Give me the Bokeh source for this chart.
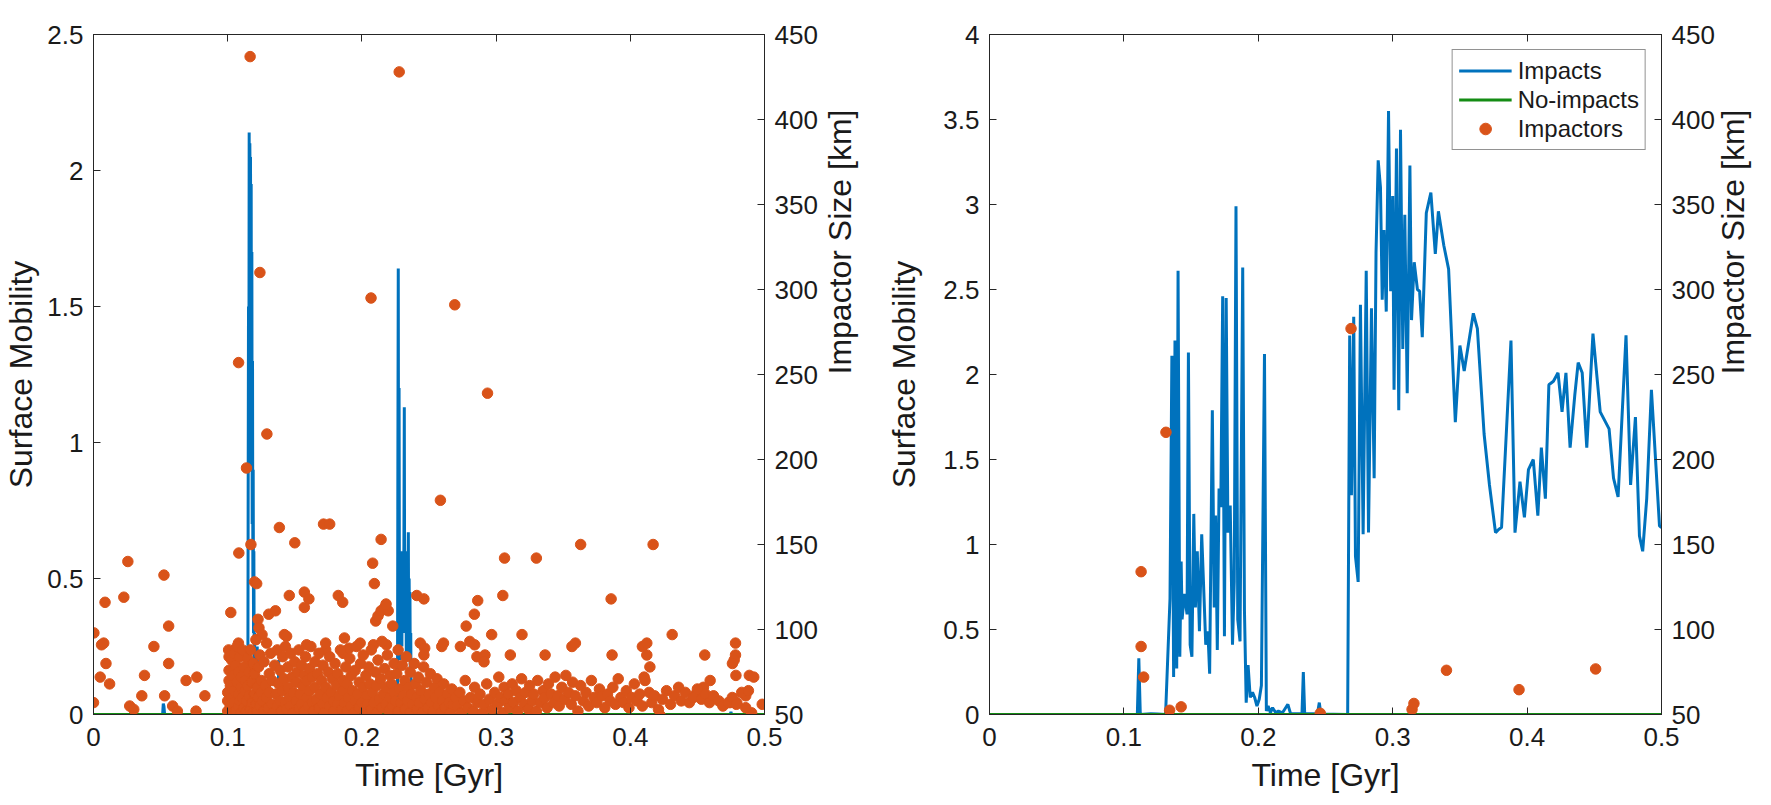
import math
from bokeh.plotting import figure
from bokeh.models import Range1d, LinearAxis, FixedTicker, Label, Legend, LegendItem
from bokeh.layouts import row
from bokeh.embed import file_html
from bokeh.resources import INLINE

# ---------------- data ----------------
x_ticks = [0, 0.1, 0.2, 0.3, 0.4, 0.5]
x_tick_labels = ["0", "0.1", "0.2", "0.3", "0.4", "0.5"]
y3_ticks = [0, 0.5, 1, 1.5, 2, 2.5]
y3_tick_labels = ["0", "0.5", "1", "1.5", "2", "2.5"]
y2_ticks = [0, 0.5, 1, 1.5, 2, 2.5, 3, 3.5, 4]
y2_tick_labels = ["0", "0.5", "1", "1.5", "2", "2.5", "3", "3.5", "4"]
size_ticks = [50, 100, 150, 200, 250, 300, 350, 400, 450]
size_tick_labels = ["50", "100", "150", "200", "250", "300", "350", "400", "450"]

no_impacts_t = [0.0, 0.5]
no_impacts_m = [0.0, 0.0]

# 3-D surface mobility (impacts)
mob3_t = [0.0, 0.0515, 0.052, 0.0525, 0.053, 0.1150,
          0.11525, 0.1155, 0.11575, 0.1160, 0.11625, 0.1165, 0.11675, 0.1170, 0.11725,
          0.1175, 0.11775, 0.1180, 0.11825, 0.1185, 0.11875, 0.1190, 0.11925, 0.1195,
          0.11975, 0.1200, 0.1203, 0.1206, 0.1215, 0.122, 0.1225, 0.1305, 0.131,
          0.1315, 0.1375, 0.138, 0.1385,
          0.2265, 0.2268, 0.2271, 0.2274, 0.2277, 0.2280, 0.2283, 0.2286, 0.2289, 0.2292,
          0.2295, 0.2298, 0.2301, 0.2304, 0.2307, 0.2310, 0.2313, 0.2316, 0.2319, 0.2322,
          0.2325, 0.2328, 0.2331, 0.2334, 0.2337, 0.2340, 0.2343, 0.2346, 0.2349, 0.2352,
          0.2355, 0.2358, 0.2361, 0.2364, 0.2367, 0.2370,
          0.4745, 0.475, 0.4755, 0.5]
mob3_m = [0.0, 0.0, 0.04, 0.03, 0.0, 0.0,
          0.8, 1.5, 0.9, 2.14, 1.5, 2.1, 1.9, 2.05, 1.2, 1.95, 0.9, 1.7, 0.7, 1.3, 0.5,
          0.9, 0.3, 0.6, 0.2, 0.3, 0.1, 0.25, 0.05, 0.25, 0.0, 0.0, 0.12,
          0.0, 0.0, 0.2, 0.0,
          0.0, 0.9, 1.64, 0.4, 1.2, 0.3, 0.58, 0.2, 0.59, 0.35, 0.6, 0.25, 0.57, 0.3, 0.55,
          0.4, 0.62, 1.13, 0.3, 0.6, 0.35, 0.58, 0.2, 0.55, 0.3, 0.6, 0.45, 0.67, 0.2, 0.5,
          0.3, 0.45, 0.15, 0.3, 0.05, 0.0,
          0.0, 0.01, 0.0, 0.0]

# 3-D impactors (time [Gyr], size [km])
imp3_early = [(0.0003, 98), (0.0, 57), (0.006, 91), (0.0076, 92), (0.0086, 116), (0.0093, 80),
              (0.005, 72), (0.012, 68), (0.0226, 119), (0.0256, 140), (0.027, 55), (0.030, 53),
              (0.036, 61), (0.038, 73), (0.045, 90), (0.0525, 132), (0.056, 102), (0.056, 80),
              (0.053, 61), (0.059, 55), (0.0625, 52), (0.069, 70), (0.077, 72), (0.0764, 52),
              (0.083, 61)]
imp3_large = [(0.1167, 437), (0.2278, 428), (0.124, 310), (0.2068, 295), (0.2692, 291),
              (0.1081, 257), (0.2936, 239), (0.1292, 215), (0.114, 195), (0.2585, 176),
              (0.1714, 162), (0.176, 162), (0.1385, 160), (0.2143, 153), (0.150, 151),
              (0.1173, 150), (0.363, 150), (0.417, 150), (0.1083, 145), (0.3063, 142),
              (0.330, 142), (0.208, 139), (0.2093, 127), (0.120, 128), (0.1216, 127)]
imp3_mid = [(0.1459, 120), (0.1571, 122), (0.1605, 118), (0.1571, 113), (0.1824, 120),
            (0.1857, 116), (0.2409, 120), (0.2462, 118), (0.2863, 117), (0.305, 120),
            (0.3857, 118), (0.1023, 110), (0.1306, 109), (0.1356, 111), (0.2777, 102),
            (0.2838, 109), (0.2103, 105), (0.212, 108), (0.2143, 111), (0.217, 113),
            (0.2196, 111), (0.218, 115), (0.223, 102), (0.1226, 106), (0.1233, 101),
            (0.1256, 97), (0.1422, 97), (0.1439, 96), (0.1007, 88), (0.1056, 88), (0.108, 92),
            (0.1588, 91), (0.173, 88), (0.187, 95), (0.186, 86), (0.1904, 89), (0.1987, 92),
            (0.2086, 91), (0.2183, 91), (0.2435, 92), (0.2468, 89), (0.2462, 85), (0.2595, 90),
            (0.2608, 92), (0.2734, 90), (0.2804, 93), (0.284, 91), (0.2857, 84), (0.2917, 85),
            (0.291, 81), (0.2967, 97), (0.3106, 85), (0.3193, 97), (0.3365, 85), (0.3565, 90),
            (0.3591, 92), (0.3864, 85), (0.409, 90), (0.4123, 92), (0.4123, 85), (0.4146, 78),
            (0.4103, 72), (0.4312, 97), (0.4555, 85), (0.4784, 92), (0.4784, 85), (0.4774, 82),
            (0.4761, 80), (0.4787, 73), (0.4887, 73), (0.4595, 70), (0.4545, 66), (0.4488, 62),
            (0.4222, 49.5), (0.4904, 51), (0.4983, 56), (0.486, 61), (0.4794, 57), (0.4744, 57)]
imp3_cluster_a = [(0.100, 52), (0.100, 58), (0.100, 63), (0.101, 70), (0.101, 76), (0.101, 84),
                  (0.102, 55), (0.102, 67), (0.103, 82), (0.103, 60), (0.104, 51), (0.104, 73),
                  (0.105, 57), (0.105, 86), (0.105, 64), (0.106, 79), (0.106, 52), (0.107, 69),
                  (0.107, 90), (0.108, 55), (0.108, 62), (0.108, 75), (0.109, 84), (0.109, 58),
                  (0.110, 51), (0.110, 66), (0.110, 72), (0.111, 88), (0.111, 60), (0.112, 54),
                  (0.112, 78), (0.113, 64), (0.113, 70), (0.114, 52), (0.114, 58), (0.115, 83),
                  (0.115, 67), (0.116, 61), (0.116, 75), (0.117, 53), (0.117, 88), (0.118, 57),
                  (0.118, 69), (0.119, 80), (0.119, 51), (0.120, 62), (0.120, 74), (0.121, 56),
                  (0.121, 94), (0.122, 66), (0.122, 52), (0.123, 78), (0.123, 60), (0.124, 85),
                  (0.124, 55), (0.125, 70), (0.125, 63)]
imp3_cluster_b = [(0.126, 58), (0.127, 81), (0.127, 52), (0.128, 67), (0.129, 92), (0.129, 60),
                  (0.130, 54), (0.131, 74), (0.131, 63), (0.132, 86), (0.133, 56), (0.133, 70),
                  (0.134, 51), (0.135, 79), (0.136, 62), (0.137, 55), (0.137, 88), (0.138, 68),
                  (0.139, 58), (0.139, 76), (0.140, 52), (0.141, 84), (0.141, 64), (0.142, 71),
                  (0.143, 57), (0.143, 90), (0.144, 53), (0.145, 66), (0.145, 78), (0.146, 60),
                  (0.147, 86), (0.147, 55), (0.148, 72), (0.149, 51), (0.149, 63), (0.150, 81),
                  (0.151, 58), (0.151, 69), (0.152, 75), (0.153, 54), (0.153, 88), (0.154, 62),
                  (0.155, 79), (0.155, 56), (0.156, 67), (0.157, 52), (0.157, 73), (0.158, 84),
                  (0.159, 60), (0.159, 70), (0.160, 55), (0.161, 77), (0.161, 64), (0.162, 90),
                  (0.163, 57), (0.163, 72), (0.164, 52), (0.165, 66), (0.165, 81), (0.166, 59),
                  (0.167, 74), (0.168, 54), (0.168, 86), (0.169, 62), (0.170, 70), (0.171, 56),
                  (0.171, 79), (0.172, 51), (0.173, 66), (0.173, 92), (0.174, 60), (0.175, 75),
                  (0.176, 55), (0.176, 84), (0.177, 63), (0.178, 71), (0.179, 52), (0.179, 58),
                  (0.180, 80), (0.181, 67), (0.182, 56), (0.182, 74), (0.183, 61), (0.184, 88),
                  (0.185, 53), (0.186, 70), (0.186, 64), (0.187, 57), (0.188, 78), (0.189, 52),
                  (0.189, 68), (0.190, 60), (0.191, 83), (0.192, 55), (0.192, 73), (0.193, 64),
                  (0.194, 51), (0.195, 76), (0.195, 58), (0.196, 90), (0.197, 62), (0.198, 69),
                  (0.198, 54), (0.199, 80), (0.200, 57), (0.201, 66), (0.201, 85), (0.202, 52),
                  (0.203, 73), (0.204, 61), (0.204, 56), (0.205, 78), (0.206, 68), (0.207, 53),
                  (0.207, 88), (0.208, 63), (0.209, 57), (0.210, 75), (0.211, 51), (0.211, 67),
                  (0.212, 82), (0.213, 59), (0.214, 71), (0.215, 54), (0.215, 93), (0.216, 62),
                  (0.217, 77), (0.218, 56), (0.218, 66), (0.219, 85), (0.220, 52), (0.221, 73),
                  (0.221, 60), (0.222, 68), (0.223, 55), (0.224, 80), (0.224, 63), (0.225, 58),
                  (0.226, 74), (0.227, 52), (0.227, 88), (0.228, 65), (0.229, 57), (0.230, 79),
                  (0.231, 61), (0.232, 53), (0.232, 70), (0.233, 84), (0.234, 58), (0.235, 66),
                  (0.236, 51), (0.236, 75), (0.237, 62), (0.238, 56), (0.239, 80), (0.240, 68),
                  (0.241, 53), (0.241, 60), (0.242, 72), (0.243, 57), (0.244, 64), (0.245, 51),
                  (0.246, 78), (0.247, 59), (0.248, 69), (0.249, 54), (0.250, 62), (0.251, 74),
                  (0.252, 57), (0.253, 52), (0.254, 66), (0.255, 60), (0.256, 71), (0.257, 55),
                  (0.258, 63), (0.259, 51), (0.260, 58), (0.261, 68), (0.262, 54), (0.264, 62),
                  (0.265, 57), (0.266, 51), (0.267, 65), (0.268, 56), (0.270, 60)]
imp3_late = [(0.271, 55), (0.273, 63), (0.274, 51), (0.276, 58), (0.277, 70), (0.279, 54),
             (0.281, 60), (0.283, 52), (0.284, 66), (0.286, 57), (0.288, 62), (0.290, 51),
             (0.291, 56), (0.293, 68), (0.295, 59), (0.297, 53), (0.299, 63), (0.301, 56),
             (0.302, 72), (0.303, 60), (0.305, 51), (0.306, 66), (0.307, 58), (0.309, 62),
             (0.310, 54), (0.312, 68), (0.313, 57), (0.315, 64), (0.316, 52), (0.318, 60),
             (0.319, 71), (0.321, 56), (0.322, 63), (0.324, 53), (0.325, 67), (0.327, 58),
             (0.328, 62), (0.330, 52), (0.331, 70), (0.333, 57), (0.335, 64), (0.336, 60),
             (0.338, 54), (0.339, 68), (0.341, 62), (0.343, 57), (0.344, 72), (0.346, 61),
             (0.347, 55), (0.349, 66), (0.351, 59), (0.352, 73), (0.354, 63), (0.356, 56),
             (0.357, 69), (0.359, 61), (0.361, 52), (0.363, 67), (0.365, 58), (0.367, 63),
             (0.369, 55), (0.371, 70), (0.373, 60), (0.375, 57), (0.377, 65), (0.379, 61),
             (0.381, 54), (0.383, 62), (0.385, 58), (0.387, 66), (0.389, 56), (0.391, 71),
             (0.393, 60), (0.395, 57), (0.397, 64), (0.399, 54), (0.401, 60), (0.403, 68),
             (0.405, 58), (0.407, 62), (0.409, 55), (0.411, 70), (0.414, 63), (0.416, 57),
             (0.418, 61), (0.421, 53), (0.424, 59), (0.427, 64), (0.430, 56), (0.433, 61),
             (0.436, 66), (0.438, 58), (0.441, 63), (0.444, 57), (0.447, 60), (0.450, 65),
             (0.453, 59), (0.456, 62), (0.459, 57), (0.462, 61), (0.466, 58), (0.469, 55),
             (0.473, 57), (0.476, 60), (0.479, 56), (0.483, 63), (0.486, 54), (0.488, 64),
             (0.492, 72)]

# 2-D surface mobility (impacts)
mob2_t = [0.0, 0.110, 0.1111, 0.1122, 0.120, 0.125, 0.131, 0.1343, 0.1357, 0.137, 0.138,
          0.1393, 0.1403, 0.1416, 0.1426, 0.1433, 0.145, 0.147, 0.148, 0.1493, 0.1506, 0.152,
          0.1532, 0.1546, 0.1562, 0.1579, 0.1592, 0.1609, 0.1625, 0.1638, 0.1658, 0.1672,
          0.1682, 0.1695, 0.1708, 0.1721, 0.1735, 0.1748, 0.1761, 0.1774, 0.1791, 0.1808,
          0.1821, 0.1834, 0.1847, 0.1864, 0.1884, 0.1897, 0.191, 0.1924, 0.194, 0.1957,
          0.1973, 0.199, 0.2007, 0.2023, 0.2046, 0.206, 0.2073, 0.209, 0.2106, 0.213, 0.215,
          0.218, 0.222, 0.224, 0.2325, 0.2335, 0.2345, 0.244, 0.2454, 0.2465, 0.256, 0.2665,
          0.268, 0.2693, 0.271, 0.2723, 0.2743, 0.276, 0.278, 0.2803, 0.282, 0.2842, 0.2862,
          0.2876, 0.2892, 0.2909, 0.2922, 0.2935, 0.2952, 0.2969, 0.2985, 0.300, 0.301,
          0.3028, 0.3045, 0.3058, 0.3075, 0.309, 0.3108, 0.3128, 0.314, 0.316, 0.3184, 0.320,
          0.322, 0.325, 0.3284, 0.3317, 0.334, 0.338, 0.3416, 0.3466, 0.350, 0.3532, 0.360,
          0.363, 0.368, 0.372, 0.3765, 0.379, 0.381, 0.388, 0.391, 0.3947, 0.398, 0.401,
          0.4046, 0.408, 0.4106, 0.4136, 0.4162, 0.4196, 0.423, 0.426, 0.4289, 0.432, 0.4355,
          0.438, 0.441, 0.4444, 0.449, 0.4544, 0.461, 0.4643, 0.4677, 0.4736, 0.477, 0.4806,
          0.4836, 0.486, 0.489, 0.4925, 0.4985, 0.5]
mob2_m = [0.0, 0.0, 0.33, 0.0, 0.005, 0.003, 0.0, 0.68, 2.11, 0.22, 2.2, 0.27, 2.61, 0.34,
          0.9, 0.56, 0.71, 0.59, 2.13, 0.41, 0.34, 1.18, 0.63, 0.96, 0.49, 1.06, 0.78, 0.41,
          0.49, 0.24, 1.79, 0.63, 1.17, 0.38, 1.33, 1.22, 2.46, 0.46, 2.45, 1.07, 1.23, 0.41,
          0.78, 2.99, 0.56, 0.43, 2.63, 0.61, 0.07, 0.29, 0.1, 0.13, 0.1, 0.05, 0.09, 0.17,
          2.12, 0.02, 0.05, 0.01, 0.04, 0.01, 0.02, 0.01, 0.06, 0.005, 0.005, 0.25, 0.005,
          0.005, 0.07, 0.003, 0.002, 0.0, 2.23, 1.29, 2.34, 0.93, 0.78, 2.41, 1.06, 2.61, 1.07,
          2.39, 1.39, 2.72, 3.26, 3.1, 2.44, 2.85, 2.37, 3.55, 2.49, 3.05, 1.91, 3.33, 1.79,
          3.44, 2.15, 2.94, 1.89, 3.23, 2.32, 2.66, 2.5, 2.49, 2.22, 2.95, 3.07, 2.71, 2.96,
          2.76, 2.62, 1.72, 2.17, 2.02, 2.36, 2.27, 1.65, 1.35, 1.07, 1.09, 1.1, 2.2, 1.07,
          1.37, 1.16, 1.44, 1.5, 1.17, 1.57, 1.27, 1.94, 1.96, 2.01, 1.78, 2.01, 1.57, 1.88,
          2.07, 2.01, 1.57, 2.24, 1.78, 1.68, 1.39, 1.28, 2.23, 1.35, 1.75, 1.05, 0.96, 1.27,
          1.91, 1.11, 1.1]

# 2-D impactors
imp2_t = [0.1128, 0.1128, 0.1147, 0.1313, 0.134, 0.1426, 0.2461, 0.269, 0.3144, 0.3158,
          0.340, 0.394, 0.451]
imp2_s = [134, 90, 72, 216, 52.5, 54.5, 50.7, 277, 53, 56.5, 76, 64.6, 76.8]

# ---------------- styling ----------------
FONT = "Liberation Sans"
AXC = "#262626"
TXT = "#1a1a1a"
BLUE = "#0072BD"
GREEN = "#148C14"
ORANGE = "#D95319"
TICK_FS = "26px"
LABEL_FS = "32px"


def style_axis(ax, ticks, labels, label_standoff=10, tick_standoff=10, show_labels=True):
    ax.ticker = FixedTicker(ticks=ticks)
    ax.major_label_overrides = {t: l for t, l in zip(ticks, labels)}
    ax.major_tick_in = 7
    ax.major_tick_out = 0
    ax.minor_tick_line_color = None
    ax.axis_line_color = AXC
    ax.axis_line_width = 1
    ax.major_tick_line_color = AXC
    ax.major_tick_line_width = 1
    ax.major_label_text_font = FONT
    ax.major_label_standoff = tick_standoff
    if show_labels:
        ax.major_label_text_font_size = TICK_FS
        ax.major_label_text_color = TXT
    else:
        ax.major_label_text_font_size = "1px"
        ax.major_label_text_color = None
        ax.major_label_standoff = 0
    ax.axis_label_text_font = FONT
    ax.axis_label_text_font_size = LABEL_FS
    ax.axis_label_text_font_style = "normal"
    ax.axis_label_text_color = TXT
    ax.axis_label_standoff = label_standoff


def make_panel(title, ymax, yticks, ylabels, width, border_left, border_right,
               left_label_standoff, right_label_standoff):
    p = figure(width=width, height=805, x_range=Range1d(0, 0.5), y_range=Range1d(0, ymax),
               output_backend="svg", toolbar_location=None,
               min_border_left=border_left, min_border_right=border_right,
               min_border_top=34, min_border_bottom=91)
    p.grid.grid_line_color = None
    p.outline_line_color = AXC
    p.outline_line_width = 1
    p.background_fill_color = "white"
    p.border_fill_color = "white"
    p.extra_y_ranges = {"size": Range1d(50, 450)}

    xb = p.below[0]
    style_axis(xb, x_ticks, x_tick_labels, label_standoff=8, tick_standoff=13)
    xb.axis_label = "Time [Gyr]"

    yl = p.left[0]
    style_axis(yl, yticks, ylabels, label_standoff=left_label_standoff)
    yl.axis_label = "Surface Mobility"

    top = LinearAxis()
    style_axis(top, x_ticks, x_tick_labels, show_labels=False)
    p.add_layout(top, "above")

    yr = LinearAxis(y_range_name="size", axis_label="Impactor Size [km]")
    style_axis(yr, size_ticks, size_tick_labels, label_standoff=right_label_standoff)
    try:
        yr.axis_label_orientation = math.pi / 2
    except Exception:
        pass
    p.add_layout(yr, "right")

    p.add_layout(Label(x=0.25, y=ymax, y_offset=10, text=title, text_align="center",
                       text_baseline="alphabetic", text_font=FONT, text_font_size="27px",
                       text_font_style="bold", text_color="black"))
    return p


# ---------------- 3-D panel ----------------
p1 = make_panel("3-D", 2.5, y3_ticks, y3_tick_labels, 880, 92, 116, 5, 19)
imp3_all = imp3_early + imp3_large + imp3_mid + imp3_cluster_a + imp3_cluster_b + imp3_late
p1.line(mob3_t, mob3_m, line_color=BLUE, line_width=3)
p1.line(no_impacts_t, no_impacts_m, line_color=GREEN, line_width=3)
p1.scatter([a for a, b in imp3_all], [b for a, b in imp3_all], y_range_name="size",
           size=10.5, fill_color=ORANGE, line_color=ORANGE)

# ---------------- 2-D panel ----------------
p2 = make_panel("2-D", 4, y2_ticks, y2_tick_labels, 891, 109, 109, 18, 15)
r_imp = p2.line(mob2_t, mob2_m, line_color=BLUE, line_width=3)
r_no = p2.line(no_impacts_t, no_impacts_m, line_color=GREEN, line_width=3)
r_dots = p2.scatter(imp2_t, imp2_s, y_range_name="size", size=10.5,
                    fill_color=ORANGE, line_color=ORANGE)

legend = Legend(items=[LegendItem(label="Impacts", renderers=[r_imp]),
                       LegendItem(label="No-impacts", renderers=[r_no]),
                       LegendItem(label="Impactors", renderers=[r_dots])],
                location="top_right", margin=15, padding=6, spacing=0,
                label_height=29, glyph_height=29, glyph_width=53, label_standoff=6,
                border_line_color=AXC, border_line_width=1,
                label_text_font=FONT, label_text_font_size="24px",
                label_text_color=TXT, background_fill_color="white",
                background_fill_alpha=1.0)
p2.add_layout(legend)

layout = row(p1, p2)
open("out.html", "w").write(file_html(layout, INLINE))
